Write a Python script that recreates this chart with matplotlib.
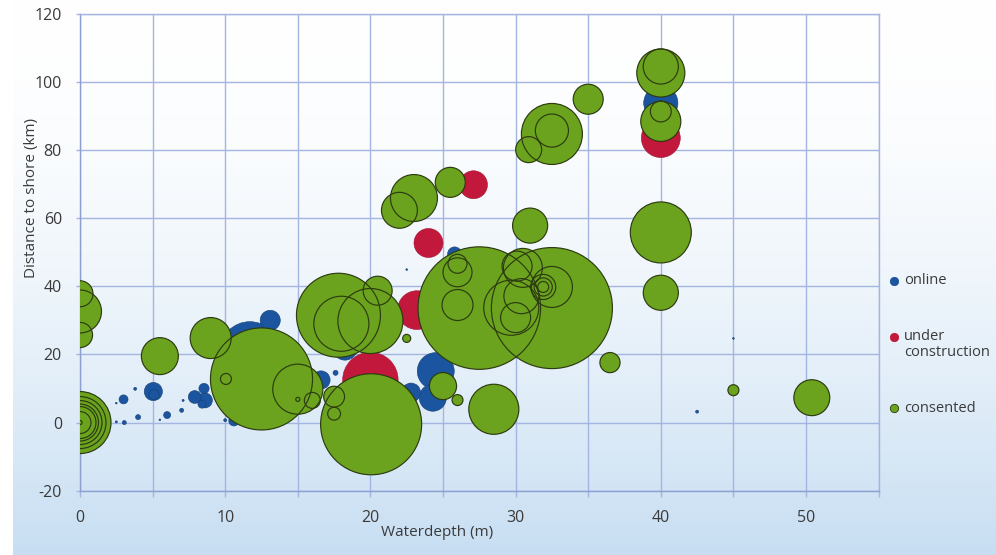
import numpy as np
import matplotlib
matplotlib.use("Agg")
import matplotlib.pyplot as plt
from matplotlib.ticker import MultipleLocator

plt.rcParams['font.family'] = ['Open Sans', 'DejaVu Sans']
plt.rcParams['axes.unicode_minus'] = False

# Offshore wind farms: water depth (m), distance to shore (km), capacity (MW)
online_depth = [40.0, 24.5, 24.3, 22.8, 13.1, 11.7, 16.6, 17.6, 18.25, 25.8, 10.6,
                3.0, 5.05, 5.1, 4.0, 3.8, 6.0, 7.0, 7.1, 3.05, 2.5, 5.5, 10.0,
                7.9, 8.54, 8.6, 8.4, 42.5, 45.0, 22.5, 2.5]
online_dist = [93.8, 15.1, 7.3, 8.8, 30.0, 20.8, 12.5, 14.6, 22.0, 49.5, 0.5,
               6.8, 9.1, 8.2, 1.6, 9.9, 2.2, 3.6, 6.5, 0.0, 0.2, 0.8, 0.7,
               7.5, 10.0, 6.5, 5.4, 3.2, 24.7, 44.9, 5.7]
online_mw = [78, 91, 49, 24, 27, 240, 22, 1.7, 42, 13, 7,
             5.4, 22, 7, 1.7, 0.6, 3.3, 1.1, 0.3, 1.1, 0.3, 0.2, 0.6,
             11, 7, 15, 4.3, 0.6, 0.2, 0.2, 0.2]

building_depth = [20.0, 23.2, 24.0, 27.1, 40.0]
building_dist = [12.5, 33.0, 52.7, 69.8, 83.5]
building_mw = [205, 100, 56, 52, 101]

consented_depth = [0, 0, 0, 0, 0, 0, 0, 0, 0, 0,
                   5.5, 9.0, 12.5, 10.05, 15.0, 15.0, 16.0, 17.5, 17.5, 20.05,
                   17.8, 18.0, 20.0, 20.5, 22.5, 22.0, 23.0, 25.5, 31.0,
                   27.5, 32.5, 26.0, 26.0, 26.0, 30.1, 30.5, 31.9, 31.9, 31.9,
                   32.5, 30.4, 29.7, 30.0, 36.5, 28.5, 26.0, 25.0,
                   40.0, 40.0, 40.0, 40.0, 40.0, 40.0, 35.0, 32.5, 32.5, 30.9,
                   45.0, 50.4]
consented_dist = [0, 0, 0, 0, 0, 0, 0, 37.8, 32.6, 25.7,
                  19.5, 24.8, 12.8, 12.8, 9.8, 6.8, 6.5, 7.6, 2.6, -0.5,
                  31.5, 29.0, 29.8, 38.7, 24.7, 62.3, 65.9, 70.5, 57.8,
                  33.6, 33.6, 46.6, 44.1, 34.5, 45.9, 45.4, 39.8, 39.8, 39.8,
                  39.8, 37.1, 33.7, 30.8, 17.6, 3.9, 6.6, 10.7,
                  102.6, 104.5, 88.4, 91.3, 55.8, 38.1, 94.9, 84.7, 85.7, 80.1,
                  9.5, 7.3]
consented_mw = [256, 180, 129, 91, 68, 32, 1.1, 45, 123, 42,
                91, 112, 694, 8, 167, 1.1, 17, 29, 11, 680,
                470, 202, 282, 56, 4.3, 86, 147, 60, 82,
                1000, 976, 24, 56, 64, 60, 101, 8, 22, 42,
                112, 82, 202, 60, 27, 167, 8, 49,
                154, 82, 107, 29, 248, 82, 60, 248, 73, 45,
                8, 86]

BLUE = '#1b559f'
RED = '#c2183b'
GREEN = '#6ba31e'
EDGE = '#2c3b10'
GRID = '#a3b5e0'
TEXT = '#3a3a3a'
PT2_PER_MW = 7.78

fig = plt.figure(figsize=(9.96, 5.55), dpi=100)

# soft white-to-blue backdrop
bg = fig.add_axes([13 / 996, 0, 1 - 13 / 996, 1], zorder=-10)
t = np.linspace(0, 1, 256) ** 1.8
top = np.array([1.0, 1.0, 1.0])
bottom = np.array([0.78, 0.87, 0.95])
grad = top[None, :] * (1 - t[:, None]) + bottom[None, :] * t[:, None]
bg.imshow(grad[:, None, :], aspect='auto', extent=[0, 1, 0, 1])
bg.axis('off')

ax = fig.add_axes([80 / 996, (555 - 490.7) / 555, (878.6 - 80) / 996, (490.7 - 13.7) / 555])
ax.set_facecolor('none')


def sorted_by_size(xs, ys, mw):
    order = np.argsort(mw)[::-1]
    return (np.array(xs)[order], np.array(ys)[order], np.array(mw)[order] * PT2_PER_MW)


x, y, s = sorted_by_size(online_depth, online_dist, online_mw)
ax.scatter(x, y, s=s, c=BLUE, edgecolors='#163f73', linewidths=0.4, zorder=3)

x, y, s = sorted_by_size(building_depth, building_dist, building_mw)
ax.scatter(x, y, s=s, c=RED, edgecolors='#9e1430', linewidths=0.4, zorder=4)

# consented: fills first, then every outline on top
x, y, s = sorted_by_size(consented_depth, consented_dist, consented_mw)
ax.scatter(x, y, s=s, c=GREEN, edgecolors='none', zorder=5)
ax.scatter(x, y, s=s, facecolors='none', edgecolors=EDGE, linewidths=0.85, zorder=6)

ax.set_xlim(0, 55)
ax.set_ylim(-20, 120)
ax.xaxis.set_major_locator(MultipleLocator(10))
ax.xaxis.set_minor_locator(MultipleLocator(5))
ax.yaxis.set_major_locator(MultipleLocator(20))
ax.grid(True, which='both', color=GRID, linewidth=1.0, zorder=0)
ax.set_axisbelow(True)
for side in ax.spines.values():
    side.set_color(GRID)
    side.set_linewidth(1.0)
ax.spines['bottom'].set_color('#8c9fd0')
ax.spines['left'].set_color('#8c9fd0')

ax.tick_params(axis='x', which='both', direction='out', length=4, width=1, color=GRID,
               pad=10, labelsize=11.5, labelcolor=TEXT)
ax.tick_params(axis='y', which='major', direction='out', length=3, width=1, color=GRID,
               pad=10, labelsize=11.5, labelcolor=TEXT)
ax.set_xticklabels([f'{v:g}' for v in ax.get_xticks()])

W, H = 996, 555
fig.text(437 / W, 1 - 532 / H, 'Waterdepth (m)', ha='center', va='center',
         fontsize=11, color=TEXT)
fig.text(31 / W, 1 - 198 / H, 'Distance to shore (km)', ha='center', va='center',
         rotation=90, fontsize=11, color=TEXT)

# legend
leg = [(281, BLUE, 'none', ['online']),
       (337, RED, 'none', ['under', 'construction']),
       (408, GREEN, EDGE, ['consented'])]
for ypx, col, ec, lines in leg:
    fig.add_artist(plt.Line2D([894 / W], [1 - ypx / H], marker='o', markersize=6,
                              markerfacecolor=col, markeredgecolor=ec if ec != 'none' else col,
                              markeredgewidth=0.6, linestyle='none',
                              transform=fig.transFigure))
    for i, line in enumerate(lines):
        fig.text(904 / W, 1 - (ypx + i * 15.5) / H, line, ha='left', va='center',
                 fontsize=10.5, color=TEXT)

fig.savefig('out.png', dpi=100)
